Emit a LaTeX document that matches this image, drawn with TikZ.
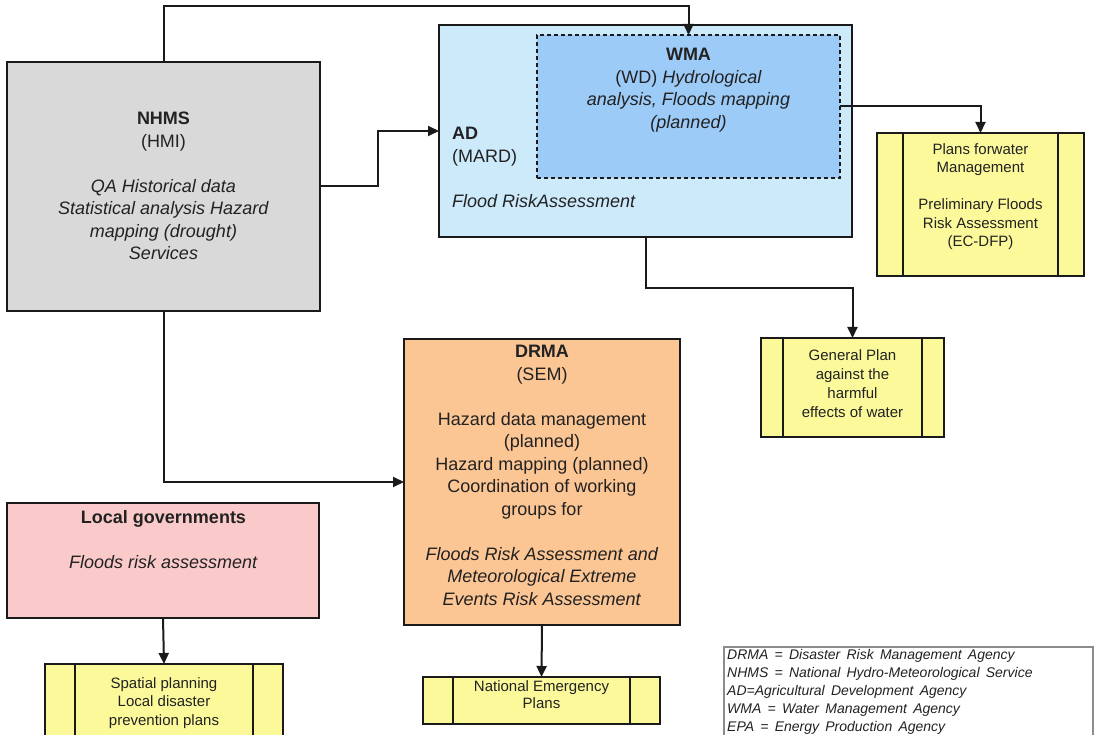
\documentclass[tikz,border=0pt]{standalone}
\usepackage{fontspec}
\setmainfont{Liberation Sans}
\newfontfamily\legendfont[WordSpace=1.6]{Liberation Sans}
\usetikzlibrary{arrows.meta}

\definecolor{nhmsfill}{HTML}{D9D9D9}
\definecolor{adfill}{HTML}{CDEAFB}
\definecolor{wmafill}{HTML}{9DCBF7}
\definecolor{planfill}{HTML}{FCF99B}
\definecolor{drmafill}{HTML}{FBC594}
\definecolor{localfill}{HTML}{FACACA}
\definecolor{inkline}{HTML}{1A1A1A}
\definecolor{inktext}{HTML}{222222}
\definecolor{legendline}{HTML}{8C8C8C}

\begin{document}
\begin{tikzpicture}[x=1pt,y=-1pt,
  box/.style={draw=inkline, line width=2pt, inner sep=0pt, outer sep=0pt, anchor=north west},
  procbox/.style={box, fill=planfill,
    path picture={
      \draw[inkline, line width=1.3pt]
        ([xshift=#1]path picture bounding box.north west) -- ([xshift=#1]path picture bounding box.south west)
        ([xshift=-#1]path picture bounding box.north east) -- ([xshift=-#1]path picture bounding box.south east);
    }},
  conn/.style={draw=inkline, line width=2pt, -{Triangle[length=11pt,width=10pt]}},
  bigtxt/.style={inner sep=0pt, align=center, text=inktext, font=\fontsize{18}{22.5}\selectfont},
  smalltxt/.style={inner sep=0pt, align=center, text=inktext, anchor=north},
]
\useasboundingbox (0,0) rectangle (1096,735);
\clip (0,0) rectangle (1096,735);

% agency boxes
\node[box, fill=nhmsfill, minimum width=313pt, minimum height=249pt] (nhms) at (7,62) {};
\node[box, fill=adfill, minimum width=413pt, minimum height=212pt] (ad) at (439,25) {};
\node[box, fill=wmafill, line width=1.3pt, dash pattern=on 4pt off 3pt,
      minimum width=303pt, minimum height=143pt] (wma) at (537,35) {};
\node[box, fill=drmafill, minimum width=276pt, minimum height=286pt] (drma) at (404,339) {};
\node[box, fill=localfill, minimum width=312pt, minimum height=115pt] (local) at (7,503) {};

% plan documents
\node[procbox=26pt, minimum width=207pt, minimum height=143pt] (plans) at (877,133) {};
\node[procbox=22pt, minimum width=183pt, minimum height=99pt] (gen) at (761,338) {};
\node[procbox=30pt, minimum width=237pt, minimum height=47pt] (nat) at (423,677) {};
\node[procbox=30pt, minimum width=238pt, minimum height=85pt] (spatial) at (45,664) {};

% legend frame
\node[box, draw=legendline, line width=1.5pt, fill=white,
      minimum width=369pt, minimum height=100pt] (legend) at (724,647) {};

% box texts
\node[bigtxt, anchor=north] (nhmstext) at (163.5,112)
  {\textbf{NHMS}\\(HMI)\\[22.5pt]\textit{QA Historical data}\\\textit{Statistical analysis Hazard}\\\textit{mapping (drought)}\\\textit{Services}};
\node[bigtxt, anchor=north west, align=left] (adtext) at (452,127)
  {\textbf{AD}\\(MARD)\\[22.5pt]\textit{Flood RiskAssessment}};
\node[bigtxt, anchor=north] (wmatext) at (688.5,48)
  {\textbf{WMA}\\(WD) \textit{Hydrological}\\\textit{analysis, Floods mapping}\\\textit{(planned)}};
\node[bigtxt, anchor=north] (drmatext) at (542,345)
  {\textbf{DRMA}\\(SEM)\\[22.5pt]Hazard data management\\(planned)\\Hazard mapping (planned)\\Coordination of working\\groups for\\[22.5pt]\textit{Floods Risk Assessment and}\\\textit{Meteorological Extreme}\\\textit{Events Risk Assessment}};
\node[bigtxt, anchor=north] (localtext) at (163.5,510)
  {\textbf{Local governments}\\[22.5pt]\textit{Floods risk assessment}};

\node[smalltxt, font=\fontsize{15}{18.5}\selectfont] (planstext) at (980.5,143)
  {Plans forwater\\Management\\[18.5pt]Preliminary Floods\\Risk Assessment\\(EC-DFP)};
\node[smalltxt, font=\fontsize{15}{19}\selectfont] (gentext) at (852.5,349)
  {General Plan\\against the\\harmful\\effects of water};
\node[smalltxt, font=\fontsize{15}{17.5}\selectfont] (nattext) at (541.5,680)
  {National Emergency\\Plans};
\node[smalltxt, font=\fontsize{15}{18.5}\selectfont] (spatialtext) at (164,677)
  {Spatial planning\\Local disaster\\prevention plans};

\node[inner sep=0pt, anchor=north west, align=left, text=inktext,
      font=\legendfont\itshape\fontsize{14}{18}\selectfont] (legendtext) at (727,649)
  {DRMA = Disaster Risk Management Agency\\NHMS = National Hydro-Meteorological Service\\AD=Agricultural Development Agency\\WMA = Water Management Agency\\EPA = Energy Production Agency};

% connectors
\coordinate (toprun) at (0,6);
\coordinate (adrun) at (0,288);
\draw[conn] (nhms.north) -- (nhms.north |- toprun) -| (wma.north);
\draw[conn] (nhms.east) -- ++(58,0) |- (ad.west);
\draw[conn] (wma.east) -| (plans.north);
\draw[conn] (ad.south) -- (ad.south |- adrun) -| (gen.north);
\draw[conn] (nhms.south) |- (drma.west);
\draw[conn] (drma.south) -- (nat.north);
\draw[conn] (local.south) -- (spatial.north);
\end{tikzpicture}
\end{document}
